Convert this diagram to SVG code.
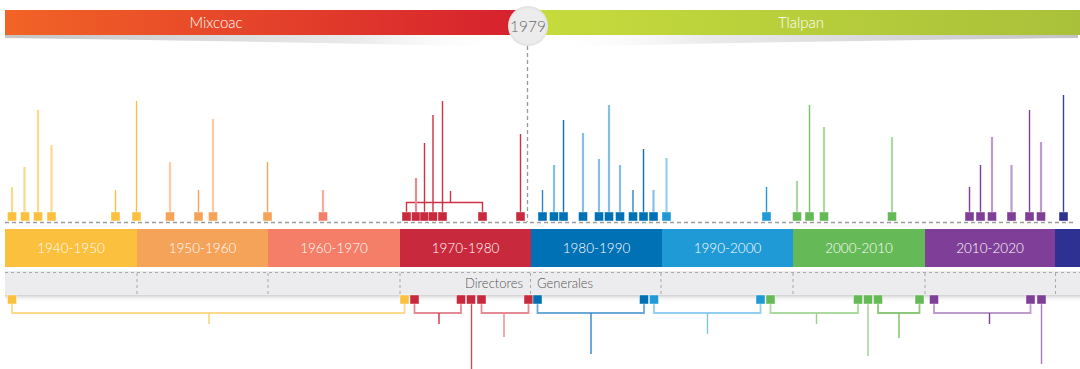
<svg xmlns="http://www.w3.org/2000/svg" width="1080" height="369" viewBox="0 0 1080 369">
<defs>
<linearGradient id="gRed" x1="0" x2="1" y1="0" y2="0"><stop offset="0" stop-color="#f26426"/><stop offset="1" stop-color="#d6202e"/></linearGradient>
<linearGradient id="gGreen" x1="0" x2="1" y1="0" y2="0"><stop offset="0" stop-color="#c6dc3c"/><stop offset="1" stop-color="#a9c03a"/></linearGradient>
<linearGradient id="shL" x1="0" x2="1" y1="0" y2="0"><stop offset="0" stop-color="#c4c4c4"/><stop offset="0.7" stop-color="#ebebeb"/><stop offset="1" stop-color="#ffffff" stop-opacity="0"/></linearGradient>
<linearGradient id="shR" x1="1" x2="0" y1="0" y2="0"><stop offset="0" stop-color="#c4c4c4"/><stop offset="0.7" stop-color="#ebebeb"/><stop offset="1" stop-color="#ffffff" stop-opacity="0"/></linearGradient>
<linearGradient id="shB" x1="0" x2="0" y1="0" y2="1"><stop offset="0" stop-color="#cfcfcf"/><stop offset="1" stop-color="#ffffff" stop-opacity="0"/></linearGradient>
<radialGradient id="gCirc" cx="0.5" cy="0.5" r="0.5"><stop offset="0.85" stop-color="#ececec"/><stop offset="1" stop-color="#e0e0e0"/></radialGradient>
</defs>
<style>
text{font-family:Lato,"Noto Sans","Liberation Sans",sans-serif;font-weight:300}
.wt{fill:#fff;font-size:13.5px;text-anchor:middle}
.bar{fill:#fff;font-size:15px;text-anchor:middle}
.gt{fill:#555;font-size:13px}
.dash{stroke:#9a9a9a;stroke-width:1.3;stroke-dasharray:4 3;fill:none}
.div{stroke:#a8a8a8;stroke-width:1;stroke-dasharray:3 3;fill:none}
.sq{stroke:#fff;stroke-width:0.6;stroke-opacity:0.7}
.st{fill:none;stroke-width:1.4}
.lt{fill:none;stroke-width:2.2}
.y{fill:#fbc03d}.o{fill:#f6a35a}.s{fill:#f47e67}.r{fill:#c8293d}.b{fill:#0071b5}.lb{fill:#1f9ad6}.g{fill:#66b957}.p{fill:#7f3f98}.n{fill:#2e3192}
.sy{stroke:#fbc03d}.ly{stroke:#fdd98e}.so{stroke:#f6a35a}.lo{stroke:#fbcba6}.ls{stroke:#f8ab9c}.sr{stroke:#d03044}.lr{stroke:#e48a95}
.sb{stroke:#0b6fad}.sb2{stroke:#2a87c8}.lbl{stroke:#86bfe2}.slb{stroke:#1f9ad6}.llb{stroke:#92cff0}.sg{stroke:#78c168}.lg{stroke:#acd9a0}.sp{stroke:#7f3f98}.lp{stroke:#bc9bcd}.sn{stroke:#3b3f99}
.bk{fill:none;stroke-width:1.8}
</style>

<!-- header -->
<g id="header">
<path d="M5,35 L512,35 L512,47 Q260,41 5,38 Z" fill="url(#shL)"/>
<path d="M1078,35 L545,35 L545,47 Q800,41 1078,38 Z" fill="url(#shR)"/>
<rect x="5" y="10" width="522" height="25" fill="url(#gRed)"/>
<rect x="528" y="10" width="552" height="25" fill="url(#gGreen)"/>
<text class="bar" x="216" y="27.5">Mixcoac</text>
<text class="bar" x="801" y="27.5">Tlalpan</text>
</g>
<g id="connectors">
<line class="dash" x1="527.5" y1="46" x2="527.5" y2="222" stroke="#b0b0b0"/>
<line class="dash" x1="5" y1="222.5" x2="1076" y2="222.5"/>
</g>
<g id="year1979">
<circle cx="528" cy="26" r="20" fill="url(#gCirc)"/>
<text x="528" y="32" font-size="15.5" fill="#6a6a6a" text-anchor="middle">1979</text>
</g>

<!-- decade band -->
<g id="decades">
<rect x="5" y="229" width="132" height="38" class="y"/>
<rect x="137" y="229" width="131" height="38" class="o"/>
<rect x="268" y="229" width="132" height="38" class="s"/>
<rect x="400" y="229" width="131" height="38" class="r"/>
<rect x="531" y="229" width="131" height="38" class="b"/>
<rect x="662" y="229" width="131" height="38" class="lb"/>
<rect x="793" y="229" width="132" height="38" class="g"/>
<rect x="925" y="229" width="130" height="38" class="p"/>
<rect x="1055" y="229" width="25" height="38" class="n"/>
<text class="wt" x="71" y="253">1940-1950</text>
<text class="wt" x="202.5" y="253">1950-1960</text>
<text class="wt" x="334" y="253">1960-1970</text>
<text class="wt" x="465.5" y="253">1970-1980</text>
<text class="wt" x="596.5" y="253">1980-1990</text>
<text class="wt" x="727.5" y="253">1990-2000</text>
<text class="wt" x="859" y="253">2000-2010</text>
<text class="wt" x="990" y="253">2010-2020</text>
</g>

<!-- directors strip -->
<g id="strip">
<rect x="5" y="295" width="1075" height="7" fill="url(#shB)"/>
<rect x="5" y="271" width="1075" height="24" fill="#ececee"/>
<line class="div" x1="5" y1="272.5" x2="1080" y2="272.5"/>
<line class="div" x1="137" y1="273" x2="137" y2="295"/>
<line class="div" x1="268" y1="273" x2="268" y2="295"/>
<line class="div" x1="400" y1="273" x2="400" y2="295"/>
<line class="div" x1="530.5" y1="273" x2="530.5" y2="295"/>
<line class="div" x1="661" y1="273" x2="661" y2="295"/>
<line class="div" x1="793" y1="273" x2="793" y2="295"/>
<line class="div" x1="925" y1="273" x2="925" y2="295"/>
<line class="div" x1="1055.5" y1="273" x2="1055.5" y2="295"/>
<text class="gt" x="523" y="287.5" text-anchor="end">Directores</text>
<text class="gt" x="537" y="287.5">Generales</text>
</g>

<!-- top markers -->
<g id="top-markers">
<g id="t1"><line class="lt ly" x1="12" y1="212" x2="12" y2="187"/><rect class="sq y" x="7.5" y="212" width="9" height="9"/></g>
<g id="t2"><line class="lt ly" x1="24.5" y1="212" x2="24.5" y2="167"/><rect class="sq y" x="20.5" y="212" width="9" height="9"/></g>
<g id="t3"><line class="lt ly" x1="38" y1="212" x2="38" y2="110"/><rect class="sq y" x="33.5" y="212" width="9" height="9"/></g>
<g id="t4"><line class="lt ly" x1="51.5" y1="212" x2="51.5" y2="145"/><rect class="sq y" x="47" y="212" width="9" height="9"/></g>
<g id="t5"><line class="st sy" x1="115.5" y1="212" x2="115.5" y2="190"/><rect class="sq y" x="111" y="212" width="9" height="9"/></g>
<g id="t6"><line class="st sy" x1="136.5" y1="212" x2="136.5" y2="101"/><rect class="sq y" x="132" y="212" width="9" height="9"/></g>
<g id="t7"><line class="lt lo" x1="170" y1="212" x2="170" y2="162"/><rect class="sq o" x="165.5" y="212" width="9" height="9"/></g>
<g id="t8"><line class="st so" x1="198.5" y1="212" x2="198.5" y2="190"/><rect class="sq o" x="194" y="212" width="9" height="9"/></g>
<g id="t9"><line class="lt lo" x1="213" y1="212" x2="213" y2="119"/><rect class="sq o" x="208.5" y="212" width="9" height="9"/></g>
<g id="t10"><line class="st so" x1="267.5" y1="212" x2="267.5" y2="162"/><rect class="sq o" x="263" y="212" width="9" height="9"/></g>
<g id="t11"><line class="lt ls" x1="323" y1="212" x2="323" y2="190"/><rect class="sq s" x="318.5" y="212" width="9" height="9"/></g>
<g id="t12"><path class="st sr" d="M406.5,212 V202.5 H482.5 V212 M450.5,202.5 V191"/>
<line class="lt lr" x1="416" y1="212" x2="416" y2="178"/>
<line class="st sr" x1="424.5" y1="212" x2="424.5" y2="143"/>
<line class="st sr" x1="433" y1="212" x2="433" y2="115"/>
<line class="st sr" x1="442.5" y1="212" x2="442.5" y2="101"/>
<rect class="sq r" x="402" y="212" width="9" height="9"/>
<rect class="sq r" x="411.5" y="212" width="9" height="9"/>
<rect class="sq r" x="420" y="212" width="9" height="9"/>
<rect class="sq r" x="428.5" y="212" width="9" height="9"/>
<rect class="sq r" x="438" y="212" width="9" height="9"/>
<rect class="sq r" x="478" y="212" width="9" height="9"/></g>
<g id="t13"><line class="st sr" x1="520.5" y1="212" x2="520.5" y2="134"/><rect class="sq r" x="516" y="212" width="9" height="9"/></g>
<g id="t14"><line class="st sb2" x1="542.5" y1="212" x2="542.5" y2="190"/><rect class="sq b" x="538" y="212" width="9" height="9"/></g>
<g id="t15"><line class="lt lbl" x1="554" y1="212" x2="554" y2="165"/><rect class="sq b" x="549.5" y="212" width="9" height="9"/></g>
<g id="t16"><line class="st sb" x1="563.5" y1="212" x2="563.5" y2="120"/><rect class="sq b" x="559" y="212" width="9" height="9"/></g>
<g id="t17"><line class="lt lbl" x1="583" y1="212" x2="583" y2="133"/><rect class="sq b" x="578.5" y="212" width="9" height="9"/></g>
<g id="t18"><line class="lt lbl" x1="599" y1="212" x2="599" y2="159"/><rect class="sq b" x="594.5" y="212" width="9" height="9"/></g>
<g id="t19"><line class="lt lbl" x1="609" y1="212" x2="609" y2="105"/><rect class="sq b" x="604.5" y="212" width="9" height="9"/></g>
<g id="t20"><line class="lt lbl" x1="620" y1="212" x2="620" y2="165"/><rect class="sq b" x="615.5" y="212" width="9" height="9"/></g>
<g id="t21"><line class="st sb2" x1="633" y1="212" x2="633" y2="190"/><rect class="sq b" x="628.5" y="212" width="9" height="9"/></g>
<g id="t22"><line class="st sb" x1="643.5" y1="212" x2="643.5" y2="149"/><rect class="sq b" x="639" y="212" width="9" height="9"/></g>
<g id="t23"><line class="lt lbl" x1="653.5" y1="212" x2="653.5" y2="190"/><rect class="sq b" x="649" y="212" width="9" height="9"/></g>
<g id="t24"><line class="lt llb" x1="666.5" y1="212" x2="666.5" y2="158"/><rect class="sq lb" x="662" y="212" width="9" height="9"/></g>
<g id="t25"><line class="st slb" x1="766.5" y1="212" x2="766.5" y2="187"/><rect class="sq lb" x="762" y="212" width="9" height="9"/></g>
<g id="t26"><line class="lt lg" x1="797" y1="212" x2="797" y2="181"/><rect class="sq g" x="792.5" y="212" width="9" height="9"/></g>
<g id="t27"><line class="st sg" x1="809.5" y1="212" x2="809.5" y2="105"/><rect class="sq g" x="805" y="212" width="9" height="9"/></g>
<g id="t28"><line class="lt lg" x1="824" y1="212" x2="824" y2="127"/><rect class="sq g" x="819.5" y="212" width="9" height="9"/></g>
<g id="t29"><line class="lt lg" x1="892" y1="212" x2="892" y2="137"/><rect class="sq g" x="887.5" y="212" width="9" height="9"/></g>
<g id="t30"><line class="st sp" x1="969.5" y1="212" x2="969.5" y2="187"/><rect class="sq p" x="965" y="212" width="9" height="9"/></g>
<g id="t31"><line class="st sp" x1="980.5" y1="212" x2="980.5" y2="165"/><rect class="sq p" x="976" y="212" width="9" height="9"/></g>
<g id="t32"><line class="lt lp" x1="992" y1="212" x2="992" y2="137"/><rect class="sq p" x="987.5" y="212" width="9" height="9"/></g>
<g id="t33"><line class="lt lp" x1="1011.5" y1="212" x2="1011.5" y2="165"/><rect class="sq p" x="1007" y="212" width="9" height="9"/></g>
<g id="t34"><line class="st sp" x1="1029.5" y1="212" x2="1029.5" y2="110"/><rect class="sq p" x="1025" y="212" width="9" height="9"/></g>
<g id="t35"><line class="lt lp" x1="1041" y1="212" x2="1041" y2="142"/><rect class="sq p" x="1036.5" y="212" width="9" height="9"/></g>
<g id="t36"><line class="st sn" x1="1063.5" y1="212" x2="1063.5" y2="95"/><rect class="sq n" x="1059" y="212" width="9" height="9"/></g>
</g>

<!-- bottom markers -->
<g id="bottom-connectors">
<path class="bk ly" d="M12,304 V313 H404.5 V304 M209,313 V324"/>
<path class="bk lr" d="M414.5,304 V313 H461 V304"/>
<line class="st sr" x1="439" y1="313" x2="439" y2="324"/>
<line class="st" x1="471.5" y1="304" x2="471.5" y2="369" stroke="#cc4a5e" stroke-width="1.5"/>
<path class="bk lr" d="M481.5,304 V313 H528.5 V304"/>
<line class="st lr" x1="504" y1="313" x2="504" y2="337"/>
<path class="bk" d="M537.5,304 V313 H644 V304" stroke="#6aa9d6"/>
<line class="st sb2" x1="591" y1="313" x2="591" y2="354"/>
<path class="bk llb" d="M654,304 V313 H760.5 V304"/>
<line class="st" x1="707.5" y1="313" x2="707.5" y2="334" stroke="#7ec2e8"/>
<path class="bk lg" d="M770.5,304 V313 H858 V304"/>
<line class="st" x1="816.5" y1="313" x2="816.5" y2="324" stroke="#9ccf8f"/>
<line class="st" x1="868" y1="304" x2="868" y2="356" stroke="#9ccf8f"/>
<path class="bk" d="M878,304 V313 H919.5 V304" stroke="#8cc77c"/>
<line class="st sg" x1="899" y1="313" x2="899" y2="338"/>
<path class="bk lp" d="M934,304 V313 H1030.5 V304"/>
<line class="st sp" x1="989.5" y1="313" x2="989.5" y2="324"/>
<line class="st" x1="1041.5" y1="304" x2="1041.5" y2="364" stroke="#a379b8" stroke-width="1.6"/>
</g>
<g id="bottom-markers">
<g id="b1"><rect class="sq y" x="7.5" y="295" width="9" height="9"/></g>
<g id="b2"><rect class="sq y" x="400" y="295" width="9" height="9"/></g>
<g id="b3"><rect class="sq r" x="410" y="295" width="9" height="9"/></g>
<g id="b4"><rect class="sq r" x="456.5" y="295" width="9" height="9"/></g>
<g id="b5"><rect class="sq r" x="466.5" y="295" width="9" height="9"/></g>
<g id="b6"><rect class="sq r" x="477" y="295" width="9" height="9"/></g>
<g id="b7"><rect class="sq r" x="524" y="295" width="9" height="9"/></g>
<g id="b8"><rect class="sq b" x="533" y="295" width="9" height="9"/></g>
<g id="b9"><rect class="sq b" x="639.5" y="295" width="9" height="9"/></g>
<g id="b10"><rect class="sq lb" x="649.5" y="295" width="9" height="9"/></g>
<g id="b11"><rect class="sq lb" x="756" y="295" width="9" height="9"/></g>
<g id="b12"><rect class="sq g" x="766" y="295" width="9" height="9"/></g>
<g id="b13"><rect class="sq g" x="853.5" y="295" width="9" height="9"/></g>
<g id="b14"><rect class="sq g" x="863.5" y="295" width="9" height="9"/></g>
<g id="b15"><rect class="sq g" x="873.5" y="295" width="9" height="9"/></g>
<g id="b16"><rect class="sq g" x="915" y="295" width="9" height="9"/></g>
<g id="b17"><rect class="sq p" x="929.5" y="295" width="9" height="9"/></g>
<g id="b18"><rect class="sq p" x="1026" y="295" width="9" height="9"/></g>
<g id="b19"><rect class="sq p" x="1037" y="295" width="9" height="9"/></g>
</g>
</svg>
